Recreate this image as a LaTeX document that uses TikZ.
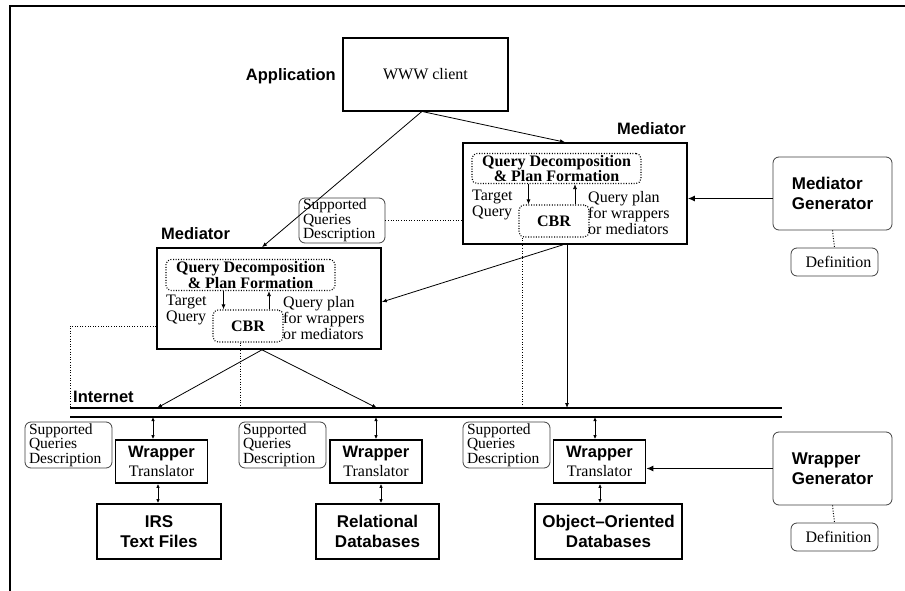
\documentclass[tikz,border=0pt]{standalone}
\usepackage{fontspec}
\setmainfont{Liberation Serif}
\setsansfont{Liberation Sans}
\usetikzlibrary{arrows.meta,calc}
\newcommand\hsf{\sffamily\bfseries\fontsize{16.5}{18}\selectfont}
\newcommand\hsfL{\sffamily\bfseries\fontsize{17}{19.5}\selectfont}
\newcommand\tser{\rmfamily\fontsize{16}{16}\selectfont}
\newcommand\tserB{\rmfamily\bfseries\fontsize{16}{15.5}\selectfont}
\newcommand\tserS{\rmfamily\fontsize{15.5}{14.5}\selectfont}
\begin{document}
\begin{tikzpicture}[x=1pt,y=-1pt,
 box/.style={draw, line width=1.6pt, inner sep=0pt, align=center},
 rbox/.style={draw=black!75, line width=0.8pt, rounded corners=6pt, inner sep=0pt, align=left},
 dbox/.style={draw, line width=1.1pt, dash pattern=on 1pt off 1.6pt, rounded corners=5pt, inner sep=0pt, align=center},
 txt/.style={inner sep=0pt, align=left},
 conn/.style={line width=0.8pt, -{Latex[length=5pt,width=4pt]}},
 bidi/.style={line width=0.8pt, {Latex[length=4pt,width=3.5pt]}-{Latex[length=4pt,width=3.5pt]}},
 dline/.style={line width=1pt, dash pattern=on 1pt off 1.6pt},
 genarrow/.style={line width=1.3pt, -{Latex[length=7pt,width=6pt]}},
 rail/.style={line width=1.5pt}
]
\useasboundingbox (0,0) rectangle (905,591);
\fill[white] (0,0) rectangle (905,591);
\draw[line width=1.6pt] (10,591) -- (10,6) -- (905,6);

% application
\node[box, minimum width=165pt, minimum height=73pt, font=\tser] (www) at (425.5,74.5) {WWW client};
\node[txt, anchor=east, font=\hsf] (app) at (336,76) {Application};

% right mediator
\node[box, minimum width=224pt, minimum height=101pt] (med1) at (575,193.5) {};
\node[txt, anchor=east, font=\hsf] (med1lbl) at (686,129) {Mediator};
\node[dbox, minimum width=169pt, minimum height=30pt, font=\tserB] (qd1) at (556.5,168.5) {Query Decomposition\\\& Plan Formation};
\node[dbox, minimum width=70pt, minimum height=32pt, font=\tserB] (cbr1) at (554,221) {CBR};
\node[txt, anchor=west, font=\tser] (tq1) at (472,205) {Target\\Query};
\node[txt, anchor=west, font=\tser] (qp1) at (588,213) {Query plan\\for wrappers\\or mediators};
\draw[conn] ([xshift=-28pt]qd1.south) -- ([xshift=-28pt]qd1.south |- cbr1.north);
\draw[conn] ([xshift=21pt]cbr1.north) -- ([xshift=21pt]cbr1.north |- qd1.south);

% left mediator
\node[box, minimum width=224pt, minimum height=101pt] (med2) at (269,298.5) {};
\node[txt, anchor=west, font=\hsf] (med2lbl) at (161,234) {Mediator};
\node[dbox, minimum width=169pt, minimum height=31pt, font=\tserB] (qd2) at (250.5,275) {Query Decomposition\\\& Plan Formation};
\node[dbox, minimum width=70pt, minimum height=32pt, font=\tserB] (cbr2) at (248,326) {CBR};
\node[txt, anchor=west, font=\tser] (tq2) at (166,310) {Target\\Query};
\node[txt, anchor=west, font=\tser] (qp2) at (283,318) {Query plan\\for wrappers\\or mediators};
\draw[conn] ([xshift=-27pt]qd2.south) -- ([xshift=-27pt]qd2.south |- cbr2.north);
\draw[conn] ([xshift=21pt]cbr2.north) -- ([xshift=21pt]cbr2.north |- qd2.south);

% supported queries description (middle)
\node[rbox, minimum width=86pt, minimum height=45pt, text width=78pt, font=\tserS] (sqdm) at (342,220.5) {Supported\\Queries\\Description};

% generators
\node[rbox, minimum width=119pt, minimum height=73pt, font=\hsfL] (mgen) at (832.5,193.5) {Mediator\\Generator};
\node[rbox, minimum width=87pt, minimum height=28pt, align=center, font=\tser] (def1) at (834.5,262) {\ \ Definition};
\node[rbox, minimum width=119pt, minimum height=73pt, font=\hsfL] (wgen) at (832.5,468.5) {Wrapper\\Generator};
\node[rbox, minimum width=87pt, minimum height=28pt, align=center, font=\tser] (def2) at (834.5,537) {\ \ Definition};
\draw[dline] (mgen.south) -- (def1.north);
\draw[dline] (wgen.south) -- (def2.north);

% internet
\coordinate (netL) at (70,408);
\coordinate (netR) at (782,408);
\coordinate (netL2) at (70,417);
\coordinate (netR2) at (782,417);
\draw[rail] (netL) -- (netR);
\draw[rail] (netL2) -- (netR2);
\node[txt, anchor=west, font=\hsf] (inet) at (73,397) {Internet};

% wrappers
\node[box, minimum width=92pt, minimum height=43pt, font=\tser] (w1) at (161.5,461.5) {{\hsf Wrapper}\\[3pt]Translator};
\node[box, minimum width=92pt, minimum height=43pt, font=\tser] (w2) at (376,461.5) {{\hsf Wrapper}\\[3pt]Translator};
\node[box, minimum width=92pt, minimum height=43pt, font=\tser] (w3) at (599.5,461.5) {{\hsf Wrapper}\\[3pt]Translator};
\node[box, minimum width=124pt, minimum height=55pt, font=\hsfL] (db1) at (159,531.5) {IRS\\Text Files};
\node[box, minimum width=123pt, minimum height=55pt, font=\hsfL] (db2) at (377.5,531.5) {Relational\\Databases};
\node[box, minimum width=147pt, minimum height=55pt, font=\hsfL] (db3) at (608.5,531.5) {Object–Oriented\\Databases};
\node[rbox, minimum width=87pt, minimum height=46pt, text width=79pt, font=\tserS] (sqd1) at (68.5,445) {Supported\\Queries\\Description};
\node[rbox, minimum width=87pt, minimum height=46pt, text width=79pt, font=\tserS] (sqd2) at (282.5,445) {Supported\\Queries\\Description};
\node[rbox, minimum width=87pt, minimum height=46pt, text width=79pt, font=\tserS] (sqd3) at (506.5,445) {Supported\\Queries\\Description};

\draw[bidi] ([xshift=-8.5pt]w1.north |- netL2) -- ([xshift=-8.5pt]w1.north);
\draw[bidi] (w2.north |- netL2) -- (w2.north);
\draw[bidi] ([xshift=-4.5pt]w3.north |- netL2) -- ([xshift=-4.5pt]w3.north);
\draw[bidi] ([xshift=-3.5pt]w1.south) -- ([xshift=-3.5pt]w1.south |- db1.north);
\draw[bidi] ([xshift=5pt]w2.south) -- ([xshift=5pt]w2.south |- db2.north);
\draw[bidi] ([xshift=0.5pt]w3.south) -- ([xshift=0.5pt]w3.south |- db3.north);

% connectors
\draw[conn] ([xshift=-4pt]www.south) -- ([xshift=-7pt]med2.north);
\draw[conn] ([xshift=-2pt]www.south) -- ([xshift=-10pt]med1.north);
\draw[conn] ([xshift=-12pt]med1.south) -- ([yshift=-3.5pt]med2.east);
\draw[conn] ([xshift=-8pt]med1.south) -- ([xshift=-8pt]med1.south |- netL);
\coordinate (t1) at (157,408);
\coordinate (t2) at (377,408);
\draw[conn] ([xshift=-7pt]med2.south) -- (t1);
\draw[conn] ([xshift=-7pt]med2.south) -- (t2);
\draw[genarrow] ([yshift=-5pt]mgen.west) -- ([yshift=-5pt]med1.east);
\draw[genarrow] (wgen.west) -- (wgen.west -| w3.east);

% dotted links
\draw[dline] (sqdm.east) -- (sqdm.east -| med1.west);
\draw[dline] (cbr2.west -| med2.west) -| (netL);
\draw[dline] ([xshift=-8pt]cbr2.south) -- ([xshift=-8pt]cbr2.south |- netL);
\draw[dline] ([xshift=-32pt]cbr1.south) -- ([xshift=-32pt]cbr1.south |- netL);
\end{tikzpicture}
\end{document}
